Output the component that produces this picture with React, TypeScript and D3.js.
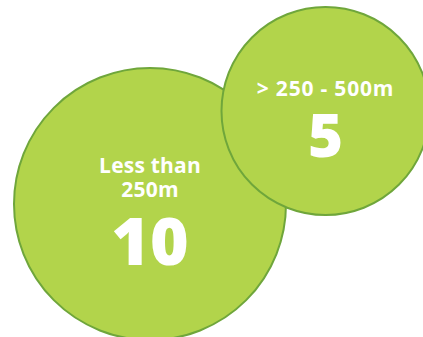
import React from "react";
import * as d3 from "d3";

const categories: string[][] = [["Less than", "250m"], ["> 250 - 500m"]];
const values: number[] = [10, 5];

const W = 423;
const H = 337;
const FILL = "#b2d44b";
const STROKE = "#6fa63b";
const FONT = "'Open Sans', 'Noto Sans', sans-serif";

// layout of bubble centres (layout, not data)
const centres = [
  { cx: 150, cy: 204, labelBase: -31, lineGap: 24, numBase: 61, numSize: 66, ls: 0.2 },
  { cx: 325.5, cy: 111, labelBase: -15, lineGap: 24, numBase: 45.5, numSize: 60, ls: 0.8 },
];

export default function App() {
  const r = d3.scalePow().exponent(0.387).domain([0, 10]).range([0, 136]);
  return (
    <svg
      width={W}
      height={H}
      style={{ position: "absolute", left: 0, top: 0, display: "block" }}
    >
      {values.map((v, i) => {
        const c = centres[i];
        const lines = categories[i];
        return (
          <g key={i} transform={`translate(${c.cx},${c.cy})`}>
            <circle r={r(v)} fill={FILL} stroke={STROKE} strokeWidth={2} />
            <text
              textAnchor="middle"
              fill="#fff"
              fontFamily={FONT}
              fontWeight={700}
              fontSize={21}
              letterSpacing={c.ls}
            >
              {lines.map((l, j) => (
                <tspan key={j} x={0} y={c.labelBase + j * c.lineGap}>
                  {l}
                </tspan>
              ))}
            </text>
            <text
              x={0}
              y={c.numBase}
              textAnchor="middle"
              fill="#fff"
              fontFamily={FONT}
              fontWeight={800}
              fontSize={c.numSize}
            >
              {d3.format("d")(v)}
            </text>
          </g>
        );
      })}
    </svg>
  );
}
